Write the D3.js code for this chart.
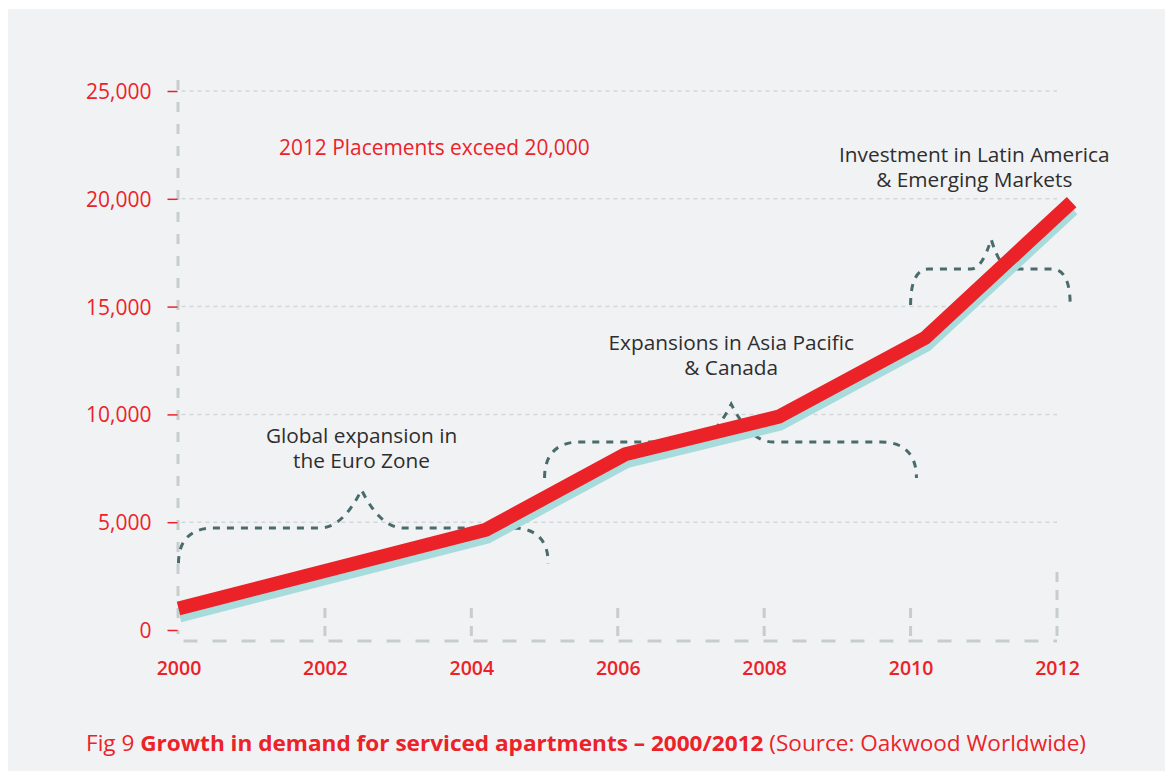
<!DOCTYPE html>
<html>
<head>
<meta charset="utf-8">
<script src="https://cdn.jsdelivr.net/npm/d3@7"></script>
<style>
  html, body { margin: 0; padding: 0; background: #fff; }
  svg { display: block; }
  text { font-family: "Open Sans", "Noto Sans", sans-serif; }
</style>
</head>
<body>
<svg id="chart"></svg>
<script>
// values
const years = [2000, 2004.2, 2006.1, 2008.2, 2010.2, 2012.2];
const placements = [1000, 4650, 8150, 9900, 13550, 19850];
const tickYears = [2000, 2002, 2004, 2006, 2008, 2010, 2012];
const tickValues = [0, 5000, 10000, 15000, 20000, 25000];

// braces: start/end year, peak year, end / bar / peak values
const braceFrom = [2000, 2005, 2010];
const braceTo = [2005.05, 2010.08, 2012.18];
const bracePeak = [2002.5, 2007.55, 2011.1];
const braceEnd = [3100, 7050, 15070];
const braceBar = [4730, 8720, 16740];
const braceTop = [6500, 10480, 18130];

const notes = [
  ['Global expansion in', 'the Euro Zone'],
  ['Expansions in Asia Pacific', '& Canada'],
  ['Investment in Latin America', '& Emerging Markets']
];
const noteYear = [2002.5, 2007.55, 2010.87];
const noteValue = [8680, 13000, 21700];

const headline = '2012 Placements exceed 20,000';

const width = 1165;
const height = 771;
const red = '#ec2229';

const svg = d3.select('#chart')
  .attr('width', width)
  .attr('height', height);

svg.append('rect')
  .attr('x', 8).attr('y', 9)
  .attr('width', width - 8).attr('height', height - 9)
  .attr('fill', '#f1f2f4');

const x = d3.scaleLinear().domain([2000, 2012]).range([178.5, 1057]);
const y = d3.scaleLinear().domain([0, 25000]).range([630, 91]);

// dotted grid
svg.append('g')
  .selectAll('line')
  .data(tickValues.slice(1))
  .enter()
  .append('line')
  .attr('x1', x(2000) + 3)
  .attr('x2', x(2012))
  .attr('y1', d => y(d))
  .attr('y2', d => y(d))
  .attr('stroke', '#d3d6d9')
  .attr('stroke-width', 1.5)
  .attr('stroke-dasharray', '4,4');

// left dashed axis line
svg.append('line')
  .attr('x1', x(2000) - 0.5).attr('x2', x(2000) - 0.5)
  .attr('y1', 80).attr('y2', 634)
  .attr('stroke', '#c6cdcc')
  .attr('stroke-width', 3)
  .attr('stroke-dasharray', '10,12');

// bottom dashed axis line
const axisY = 641;
svg.append('line')
  .attr('x1', x(2000) + 5).attr('x2', x(2012))
  .attr('y1', axisY).attr('y2', axisY)
  .attr('stroke', '#c6cdcc')
  .attr('stroke-width', 3)
  .attr('stroke-dasharray', '14,15');

// dashed year ticks
svg.append('g')
  .selectAll('line')
  .data(tickYears.slice(1))
  .enter()
  .append('line')
  .attr('x1', d => x(d))
  .attr('x2', d => x(d))
  .attr('y1', (d, i, a) => i === a.length - 1 ? 572 : 608)
  .attr('y2', axisY + 1)
  .attr('stroke', '#c6cdcc')
  .attr('stroke-width', 3)
  .attr('stroke-dasharray', '10,8');

// y axis
const yAxis = svg.append('g')
  .attr('transform', `translate(${x(2000) - 1},0)`)
  .call(d3.axisLeft(y)
    .tickValues(tickValues)
    .tickFormat(d3.format(','))
    .tickSize(10)
    .tickPadding(16));
yAxis.select('.domain').remove();
yAxis.selectAll('.tick line').attr('stroke', red).attr('stroke-width', 1.5);
yAxis.selectAll('.tick text')
  .attr('fill', red)
  .attr('font-size', 21)
  .attr('dy', '0.36em')
  .style('font-family', '"Open Sans", sans-serif');

// x axis
const xAxis = svg.append('g')
  .attr('transform', `translate(0,${axisY})`)
  .call(d3.axisBottom(x)
    .tickValues(tickYears)
    .tickFormat(d3.format('d'))
    .tickSize(0)
    .tickPadding(20));
xAxis.select('.domain').remove();
xAxis.selectAll('.tick text')
  .attr('fill', red)
  .attr('font-size', 19.5)
  .attr('font-weight', 600)
  .style('font-family', '"Open Sans", sans-serif');

// braces
function bracePath(i) {
  const x0 = x(braceFrom[i]);
  const x1 = x(braceTo[i]);
  const xm = x(bracePeak[i]);
  const ye = y(braceEnd[i]);
  const yb = y(braceBar[i]);
  const yt = y(braceTop[i]);
  const r = Math.min(35, (xm - x0) * 0.22);
  const s = Math.min(42, (xm - x0) * 0.25);
  const p = d3.path();
  p.moveTo(x0, ye);
  p.bezierCurveTo(x0, yb + (ye - yb) * 0.3, x0 + r * 0.4, yb, x0 + r, yb);
  p.lineTo(xm - s, yb);
  p.quadraticCurveTo(xm - s * 0.45, yb, xm, yt);
  p.quadraticCurveTo(xm + s * 0.45, yb, xm + s, yb);
  p.lineTo(x1 - r, yb);
  p.bezierCurveTo(x1 - r * 0.4, yb, x1, yb + (ye - yb) * 0.3, x1, ye);
  return p.toString();
}

svg.append('g')
  .selectAll('path')
  .data(braceFrom)
  .enter()
  .append('path')
  .attr('d', (d, i) => bracePath(i))
  .attr('fill', 'none')
  .attr('stroke', '#4a6b6b')
  .attr('stroke-width', 3)
  .attr('stroke-dasharray', '7,7');

// line with shadow
const points = years.map((d, i) => [d, placements[i]]);
const line = d3.line()
  .x(d => x(d[0]))
  .y(d => y(d[1]));

svg.append('path')
  .datum(points)
  .attr('d', line)
  .attr('transform', 'translate(1,7)')
  .attr('fill', 'none')
  .attr('stroke', '#a8dbdc')
  .attr('stroke-width', 14)
  .attr('stroke-linejoin', 'miter');

svg.append('path')
  .datum(points)
  .attr('d', line)
  .attr('fill', 'none')
  .attr('stroke', red)
  .attr('stroke-width', 14)
  .attr('stroke-linejoin', 'miter');

// notes
const noteText = svg.append('g')
  .selectAll('text')
  .data(notes)
  .enter()
  .append('text')
  .attr('text-anchor', 'middle')
  .attr('font-size', 20.8)
  .attr('fill', '#2e2e2e')
  .attr('x', (d, i) => x(noteYear[i]))
  .attr('y', (d, i) => y(noteValue[i]));
noteText.selectAll('tspan')
  .data(d => d)
  .enter()
  .append('tspan')
  .attr('x', function () { return this.parentNode.getAttribute('x'); })
  .attr('dy', (d, i) => i === 0 ? 0 : 25)
  .text(d => d);

svg.append('text')
  .attr('x', 279)
  .attr('y', 155)
  .attr('font-size', 20.9)
  .attr('fill', red)
  .text(headline);

// caption
const caption = svg.append('text')
  .attr('x', 586)
  .attr('y', 751)
  .attr('text-anchor', 'middle')
  .attr('font-size', 22)
  .attr('fill', red);
caption.append('tspan').text('Fig 9 ');
caption.append('tspan').attr('font-weight', 700).text('Growth in demand for serviced apartments – 2000/2012');
caption.append('tspan').text(' (Source: Oakwood Worldwide)');
caption.attr('textLength', 1000).attr('lengthAdjust', 'spacingAndGlyphs');
</script>
</body>
</html>
